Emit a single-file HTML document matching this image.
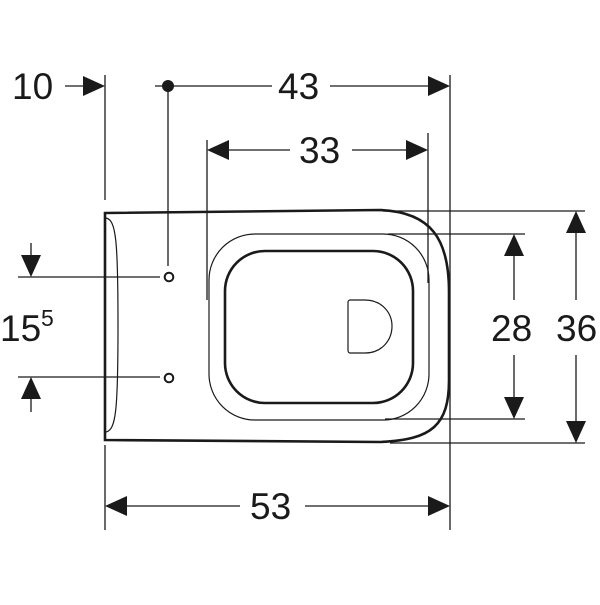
<!DOCTYPE html>
<html><head><style>
html,body{margin:0;padding:0;background:#fff}
text{font-family:"Liberation Sans",sans-serif;font-size:37px;fill:#1a1a1a}
</style></head><body>
<svg width="600" height="600" viewBox="0 0 600 600" xmlns="http://www.w3.org/2000/svg">
<g stroke="#1a1a1a" fill="none" stroke-width="1.3">
<line x1="105" y1="75" x2="105" y2="200"/>
<line x1="105" y1="445" x2="105" y2="530"/>
<line x1="168" y1="86" x2="168" y2="266"/>
<line x1="450" y1="75" x2="450" y2="530"/>
<line x1="207" y1="140" x2="207" y2="300"/>
<line x1="428" y1="133" x2="428" y2="283"/>
<line x1="383" y1="211" x2="585" y2="211"/>
<line x1="388" y1="234" x2="525" y2="234"/>
<line x1="385" y1="419" x2="525" y2="419"/>
<line x1="390" y1="443" x2="585" y2="443"/>
<line x1="18" y1="277" x2="160" y2="277"/>
<line x1="18" y1="377" x2="160" y2="377"/>
<line x1="65" y1="86" x2="90" y2="86"/>
<line x1="155" y1="86" x2="272" y2="86"/>
<line x1="330" y1="86" x2="440" y2="86"/>
<line x1="215" y1="150" x2="290" y2="150"/>
<line x1="352" y1="150" x2="420" y2="150"/>
<line x1="115" y1="506" x2="240" y2="506"/>
<line x1="305" y1="506" x2="440" y2="506"/>
<line x1="514" y1="240" x2="514" y2="300"/>
<line x1="514" y1="355" x2="514" y2="410"/>
<line x1="576" y1="215" x2="576" y2="300"/>
<line x1="576" y1="355" x2="576" y2="435"/>
<line x1="31" y1="243" x2="31" y2="270"/>
<line x1="31" y1="385" x2="31" y2="412"/>
<path d="M105,213 L380,210 C432,212 449,240 449,292 L449,380 C449,425 432,440 380,442 L105,440 Z" stroke-width="2.6"/>
<path d="M106,218 C116,220 118,240 118,325 C118,410 116,430 106,432" stroke-width="1.2"/>
<rect x="209" y="234" width="220" height="186" rx="46" stroke-width="1.2"/>
<rect x="225" y="251" width="188" height="152" rx="40" stroke-width="2.6"/>
<path d="M350,300 L365,300 C382,300 392,313 392,326 C392,340 382,353 365,353 L350,353 C349,353 348,352 348,350 L348,302 C348,301 349,300 350,300 Z" stroke-width="1.2"/>
<circle cx="169" cy="277" r="4.3" stroke-width="2"/>
<circle cx="169" cy="378" r="4.3" stroke-width="2"/>
</g>
<g fill="#1a1a1a">
<circle cx="168" cy="86" r="6"/>
<polygon points="105,86 83,76 83,96"/>
<polygon points="450,86 428,76 428,96"/>
<polygon points="207,150 229,140 229,160"/>
<polygon points="428,150 406,140 406,160"/>
<polygon points="105,506 127,496 127,516"/>
<polygon points="450,506 428,496 428,516"/>
<polygon points="514,234 504,256 524,256"/>
<polygon points="514,419 504,397 524,397"/>
<polygon points="576,211 566,233 586,233"/>
<polygon points="576,443 566,421 586,421"/>
<polygon points="31,277 21,255 41,255"/>
<polygon points="31,377 21,399 41,399"/>
<text x="12" y="99">10</text>
<text x="278" y="99">43</text>
<text x="299" y="163">33</text>
<text x="250" y="519">53</text>
<text x="491" y="341">28</text>
<text x="556" y="341">36</text>
<text x="0" y="341">15</text>
<text x="41" y="326" style="font-size:23px">5</text>
</g>
</svg>
</body></html>
